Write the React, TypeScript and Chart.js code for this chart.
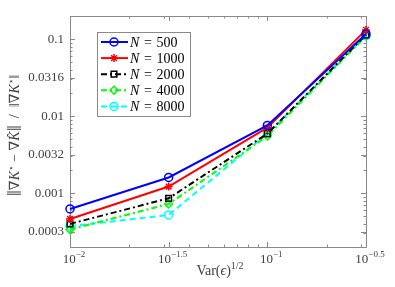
import React, { useEffect, useRef } from 'react';
import { Chart, registerables } from 'chart.js';

Chart.register(...registerables);

// ---- data ----
const xValues = [0.01, 0.0316228, 0.1, 0.316228];
const xTickValues = [0.01, 0.0316228, 0.1, 0.316228];
const xTickExponents = ['−2', '−1.5', '−1', '−0.5'];
const yTickValues = [0.000316228, 0.001, 0.00316228, 0.01, 0.0316228, 0.1];
const yTickLabels = ['0.0003', '0.001', '0.0032', '0.01', '0.0316', '0.1'];
const seriesNames = ['500', '1000', '2000', '4000', '8000'];
const n500 = [0.000624, 0.0016, 0.00759, 0.117];
const n1000 = [0.000463, 0.00122, 0.00708, 0.132];
const n2000 = [0.000399, 0.000857, 0.00593, 0.114];
const n4000 = [0.000337, 0.000723, 0.00552, 0.11];
const n8000 = [0.000372, 0.000521, 0.00593, 0.111];
const seriesValues = [n500, n1000, n2000, n4000, n8000];

const colors = ['#0000ff', '#ff0000', '#000000', '#00ff00', '#00ffff'];
const dashes: number[][] = [[], [], [6, 3, 2, 3], [6, 3, 2, 3], [6, 4]];
const markers = ['circle', 'star', 'rect', 'rectRot', 'circle'];

const FONT = "'Liberation Serif', 'DejaVu Serif', serif";
const TICK_COLOR = '#404040';
const AXIS_COLOR = '#8a8a8a';

type Seg = { t: string; it?: boolean; sup?: boolean; size?: number; dy?: number; fam?: string };

function segFont(s: Seg, base: number) {
  const size = s.size ?? (s.sup ? Math.round(base * 0.68) : base);
  return `${s.it ? 'italic ' : ''}${size}px ${s.fam ?? FONT}`;
}

function drawRich(ctx: CanvasRenderingContext2D, segs: Seg[], x: number, y: number, base: number, align: 'center' | 'left') {
  ctx.save();
  ctx.textBaseline = 'alphabetic';
  ctx.textAlign = 'left';
  let total = 0;
  const widths = segs.map((s) => {
    ctx.font = segFont(s, base);
    const w = ctx.measureText(s.t).width;
    total += w;
    return w;
  });
  let cx = align === 'center' ? x - total / 2 : x;
  segs.forEach((s, i) => {
    ctx.font = segFont(s, base);
    const yy = y + (s.sup ? -base * 0.45 : 0) + (s.dy ?? 0);
    ctx.fillText(s.t, cx, yy);
    cx += widths[i];
  });
  ctx.restore();
}

function drawMarker(ctx: CanvasRenderingContext2D, style: string, x: number, y: number, r: number) {
  ctx.beginPath();
  if (style === 'circle') {
    ctx.arc(x, y, r, 0, Math.PI * 2);
  } else if (style === 'rect') {
    const s = r * Math.SQRT1_2;
    ctx.rect(x - s, y - s, 2 * s, 2 * s);
  } else if (style === 'rectRot') {
    ctx.moveTo(x, y - r);
    ctx.lineTo(x + r, y);
    ctx.lineTo(x, y + r);
    ctx.lineTo(x - r, y);
    ctx.closePath();
  } else if (style === 'star') {
    ctx.moveTo(x - r, y);
    ctx.lineTo(x + r, y);
    ctx.moveTo(x, y - r);
    ctx.lineTo(x, y + r);
    const d = r * Math.SQRT1_2;
    ctx.moveTo(x - d, y - d);
    ctx.lineTo(x + d, y + d);
    ctx.moveTo(x - d, y + d);
    ctx.lineTo(x + d, y - d);
  }
  ctx.stroke();
}

function minorValues(min: number, max: number) {
  const out: number[] = [];
  for (let e = Math.floor(Math.log10(min)); e <= Math.ceil(Math.log10(max)); e++) {
    for (let m = 1; m <= 9; m++) {
      const v = m * Math.pow(10, e);
      if (v >= min * 0.9999 && v <= max * 1.0001) out.push(v);
    }
  }
  return out;
}

const STAR_FONT = "'DejaVu Sans', sans-serif";

const framePlugin = {
  id: 'frame',
  beforeDatasetsDraw(chart: any) {
    const ctx: CanvasRenderingContext2D = chart.ctx;
    const { left, right, top, bottom } = chart.chartArea;
    const xs = chart.scales.x;
    const ys = chart.scales.y;
    ctx.save();
    ctx.strokeStyle = AXIS_COLOR;
    ctx.lineWidth = 1;
    ctx.beginPath();
    ctx.rect(Math.round(left) + 0.5, Math.round(top) + 0.5, Math.round(right - left), Math.round(bottom - top));
    ctx.stroke();
    const major = 5;
    const minor = 2.5;
    ctx.beginPath();
    minorValues(xs.min, xs.max).forEach((v) => {
      const px = Math.round(xs.getPixelForValue(v)) + 0.5;
      ctx.moveTo(px, bottom);
      ctx.lineTo(px, bottom - minor);
      ctx.moveTo(px, top);
      ctx.lineTo(px, top + minor);
    });
    xTickValues.forEach((v) => {
      const px = Math.round(xs.getPixelForValue(v)) + 0.5;
      ctx.moveTo(px, bottom);
      ctx.lineTo(px, bottom - major);
      ctx.moveTo(px, top);
      ctx.lineTo(px, top + major);
    });
    minorValues(ys.min, ys.max).forEach((v) => {
      const py = Math.round(ys.getPixelForValue(v)) + 0.5;
      ctx.moveTo(left, py);
      ctx.lineTo(left + minor, py);
      ctx.moveTo(right, py);
      ctx.lineTo(right - minor, py);
    });
    yTickValues.forEach((v) => {
      const py = Math.round(ys.getPixelForValue(v)) + 0.5;
      ctx.moveTo(left, py);
      ctx.lineTo(left + major, py);
      ctx.moveTo(right, py);
      ctx.lineTo(right - major, py);
    });
    ctx.stroke();
    ctx.restore();
  },
  afterDraw(chart: any) {
    const ctx: CanvasRenderingContext2D = chart.ctx;
    const { left, right, top, bottom } = chart.chartArea;
    const xs = chart.scales.x;
    ctx.save();
    ctx.fillStyle = TICK_COLOR;
    xTickValues.forEach((v, i) => {
      const px = xs.getPixelForValue(v);
      drawRich(ctx, [{ t: '10' }, { t: xTickExponents[i], sup: true, size: 9 }], px + 4, bottom + 16, 13, 'center');
    });
    drawRich(
      ctx,
      [{ t: 'Var(' }, { t: 'ϵ', it: true }, { t: ')' }, { t: '1/2', sup: true, size: 10 }],
      (left + right) / 2 + 2,
      bottom + 28,
      14,
      'center'
    );
    ctx.save();
    ctx.translate(19, (top + bottom) / 2 + 4);
    ctx.rotate(-Math.PI / 2);
    drawRich(
      ctx,
      [
        { t: '‖', size: 22, dy: 2 },
        { t: '∇' },
        { t: 'K', it: true },
        { t: '⋆', sup: true, size: 9, fam: STAR_FONT, dy: 1 },
        { t: ' − ' },
        { t: '∇' },
        { t: 'K̂', it: true },
        { t: '‖', size: 22, dy: 2 },
        { t: '  /  ' },
        { t: '‖' },
        { t: '∇' },
        { t: 'K', it: true },
        { t: '⋆', sup: true, size: 9, fam: STAR_FONT, dy: 1 },
        { t: '‖' },
      ],
      0,
      0,
      14,
      'center'
    );
    ctx.restore();

    const bx = left + 27;
    const by = top + 16;
    const bw = 93;
    const bh = 84;
    ctx.fillStyle = '#ffffff';
    ctx.fillRect(bx, by, bw, bh);
    ctx.strokeStyle = AXIS_COLOR;
    ctx.lineWidth = 1;
    ctx.strokeRect(Math.round(bx) + 0.5, Math.round(by) + 0.5, bw, bh);
    seriesNames.forEach((name, i) => {
      const ry = by + 10 + i * 16.1;
      ctx.save();
      ctx.strokeStyle = colors[i];
      ctx.lineWidth = 2;
      ctx.setLineDash(dashes[i]);
      ctx.beginPath();
      ctx.moveTo(bx + 4, ry);
      ctx.lineTo(bx + 31, ry);
      ctx.stroke();
      ctx.setLineDash([]);
      ctx.lineWidth = 1.5;
      drawMarker(ctx, markers[i], bx + 17, ry, 4);
      ctx.restore();
      ctx.fillStyle = '#000000';
      drawRich(ctx, [{ t: 'N', it: true }, { t: '\u200A = \u200A' + name }], bx + 33, ry + 5, 14, 'left');
    });
    ctx.restore();
  },
};

export default function App() {
  const ref = useRef<HTMLCanvasElement | null>(null);

  useEffect(() => {
    document.body.style.margin = '0';
    const canvas = ref.current;
    if (!canvas) return;
    const datasets = seriesNames.map((name, i) => ({
      label: 'N = ' + name,
      data: xValues.map((x, j) => ({ x, y: seriesValues[i][j] })),
      borderColor: colors[i],
      backgroundColor: 'transparent',
      borderWidth: 2,
      borderDash: dashes[i],
      pointStyle: markers[i] as any,
      pointRadius: 4,
      pointBorderWidth: 1.5,
      pointBorderColor: colors[i],
      pointBackgroundColor: 'transparent',
      tension: 0,
      clip: false as any,
    }));
    const chart = new Chart(canvas, {
      type: 'line',
      data: { datasets },
      options: {
        animation: false,
        responsive: false,
        maintainAspectRatio: false,
        layout: { padding: { top: 16, right: 29, left: 0, bottom: 0 } },
        plugins: { legend: { display: false }, tooltip: { enabled: false } },
        scales: {
          x: {
            type: 'logarithmic',
            min: 0.01,
            max: 0.316228,
            grid: { display: false },
            border: { display: false },
            ticks: { display: false },
            afterBuildTicks: (scale: any) => {
              scale.ticks = xTickValues.map((v) => ({ value: v }));
            },
            afterFit: (scale: any) => {
              scale.height = 40;
            },
          },
          y: {
            type: 'logarithmic',
            min: 0.0002,
            max: 0.2,
            grid: { display: false, drawTicks: false },
            border: { display: false },
            ticks: {
              padding: 6,
              color: TICK_COLOR,
              font: { family: FONT, size: 13 },
              autoSkip: false,
              callback: (_v: any, idx: number) => yTickLabels[idx],
            },
            afterBuildTicks: (scale: any) => {
              scale.ticks = yTickValues.map((v) => ({ value: v }));
            },
            afterFit: (scale: any) => {
              scale.width = 70;
            },
          },
        },
      },
      plugins: [framePlugin],
    });
    return () => chart.destroy();
  }, []);

  return (
    <div style={{ position: 'fixed', left: 0, top: 0, width: 395, height: 287, background: '#fff' }}>
      <canvas ref={ref} width={395} height={287} />
    </div>
  );
}
